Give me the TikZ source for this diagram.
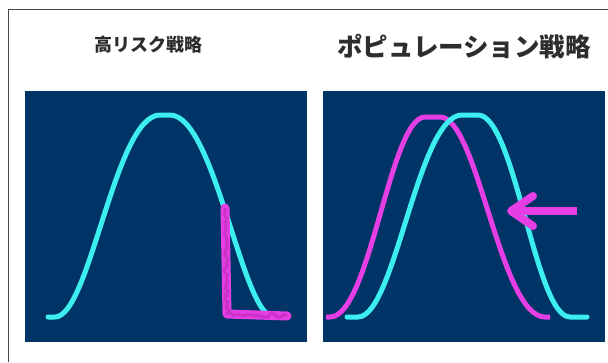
\documentclass[tikz,border=0pt]{standalone}
\usepackage{fontspec}
\newfontfamily\cjk{Noto Sans CJK JP}
\usetikzlibrary{decorations.pathmorphing}
\definecolor{navy}{RGB}{0,52,102}
\definecolor{cyanline}{RGB}{60,238,238}
\definecolor{magline}{RGB}{228,62,228}
\definecolor{magdark}{RGB}{205,50,200}
\definecolor{titlegray}{RGB}{45,45,45}
\definecolor{framegray}{RGB}{70,70,70}
\begin{document}
\begin{tikzpicture}[x=1pt,y=-1pt,
  panel/.style={fill=navy, draw=none, inner sep=0pt, outer sep=0pt, anchor=north west, minimum width=282pt, minimum height=251pt},
  curve/.style={line width=5pt, line cap=round, line join=round},
  title/.style={text=titlegray, inner sep=0pt}]
\pgfmathsetseed{7}
\fill[white] (0,0) rectangle (608,362);
\useasboundingbox (0,0) rectangle (608,362);
\draw[framegray, line width=1.5pt] (8.5,362) -- (8.5,9.5) -- (608,9.5);
% panels
\node[panel] (pl) at (25,91) {};
\node[panel] (pr) at (323,91) {};
% titles
\node[title, font=\cjk\bfseries\fontsize{18}{18}\selectfont] (tl) at (148,45) {高リスク戦略};
\node[title, font=\cjk\bfseries\fontsize{25.5}{25.5}\selectfont] (tr) at (464,47) {ポピュレーション戦略};
% left panel
\draw[curve, cyanline] (48,317) -- (55,317) .. controls (90,317) and (115,115) .. (160,115) -- (170,115) .. controls (215,115) and (242,317) .. (274,317);
\draw[magline, line width=9pt, line join=round, line cap=round] (225,208) -- (227,314) -- (287,316);
\draw[magdark, line width=3pt, line join=round, decorate, decoration={random steps, segment length=2.5pt, amplitude=2pt}] (225,208) -- (227,314) -- (287,316);
% right panel
\draw[curve, magline, line cap=butt] (326,317) -- (330,317) .. controls (370,317) and (390,117) .. (425,117) -- (440,117) .. controls (478,117) and (500,317) .. (545,317) -- (550,317);
\draw[curve, cyanline] (347,317) -- (358,317) .. controls (395,317) and (418,115) .. (462,115) -- (478,115) .. controls (515,115) and (535,317) .. (570,317) -- (587,317);
% arrow
\coordinate (atail) at (577,211);
\coordinate (atip) at (511,211);
\coordinate (abar1) at (533,196);
\coordinate (abar2) at (533,226);
\draw[magline, line width=8pt] (atail) -- (atip);
\draw[magline, line width=8pt, line cap=round, line join=round] (abar1) -- (atip) -- (abar2);
\end{tikzpicture}
\end{document}
